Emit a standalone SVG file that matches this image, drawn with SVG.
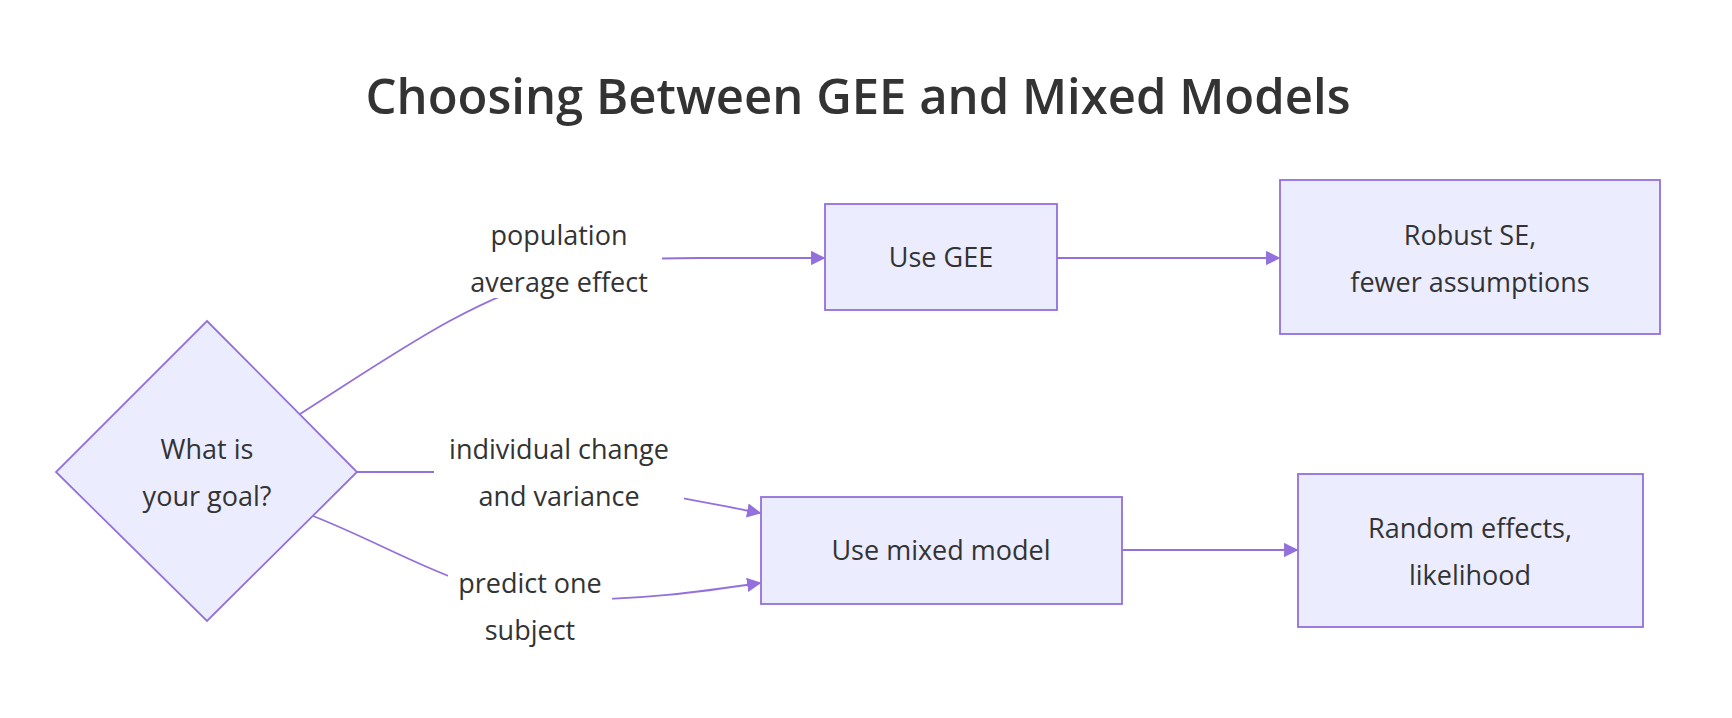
<svg xmlns="http://www.w3.org/2000/svg" width="1732" height="718" viewBox="0 0 1732 718">
<style>
.n{fill:#ECECFF;stroke:#9370DB;stroke-width:1.8}
.t{font-family:"Open Sans","Liberation Sans",sans-serif;font-size:27px;fill:#333;text-anchor:middle}
.e{fill:none;stroke:#9370DB;stroke-width:1.8}
.lb{fill:#fff}
</style>
<defs><marker id="a" viewBox="0 0 10 10" refX="9" refY="5" markerWidth="8" markerHeight="8" orient="auto"><path d="M0,0L10,5L0,10z" fill="#9370DB"/></marker></defs>
<rect width="1732" height="718" fill="#fff"/>
<text x="858" y="114" style="font-family:'Open Sans','Liberation Sans',sans-serif;font-size:49px;font-weight:600;fill:#333;text-anchor:middle">Choosing Between GEE and Mixed Models</text>
<g id="connectors">
<path class="e" d="M300,414 C400,350 470,300 560,275 C620,258 650,258 700,258 L824,258" marker-end="url(#a)"/>
<path class="e" d="M357,472 L440,472 C560,472 640,490 760,513" marker-end="url(#a)"/>
<path class="e" d="M313,516 C400,550 470,600 560,600 C640,600 700,592 760,583" marker-end="url(#a)"/>
<path class="e" d="M1057,258 L1279,258" marker-end="url(#a)"/>
<path class="e" d="M1122,550 L1297,550" marker-end="url(#a)"/>
<g>
<rect class="lb" x="456" y="212" width="206" height="86"/>
<text class="t" x="559" y="245">population</text><text class="t" x="559" y="292">average effect</text>
<rect class="lb" x="434" y="427" width="250" height="86"/>
<text class="t" x="559" y="459">individual change</text><text class="t" x="559" y="506">and variance</text>
<rect class="lb" x="448" y="561" width="164" height="86"/>
<text class="t" x="530" y="593">predict one</text><text class="t" x="530" y="640">subject</text>
</g>
</g>
<g id="goal"><path class="n" d="M207,321L357,472L207,621L56,472z"/><text class="t" x="207" y="459">What is</text><text class="t" x="207" y="506">your goal?</text></g>
<g id="gee"><rect class="n" x="825" y="204" width="232" height="106"/><text class="t" x="941" y="267">Use GEE</text></g>
<g id="robust"><rect class="n" x="1280" y="180" width="380" height="154"/><text class="t" x="1470" y="245">Robust SE,</text><text class="t" x="1470" y="292">fewer assumptions</text></g>
<g id="mixed"><rect class="n" x="761" y="497" width="361" height="107"/><text class="t" x="941" y="560">Use mixed model</text></g>
<g id="random"><rect class="n" x="1298" y="474" width="345" height="153"/><text class="t" x="1470" y="538">Random effects,</text><text class="t" x="1470" y="585">likelihood</text></g>
</svg>
